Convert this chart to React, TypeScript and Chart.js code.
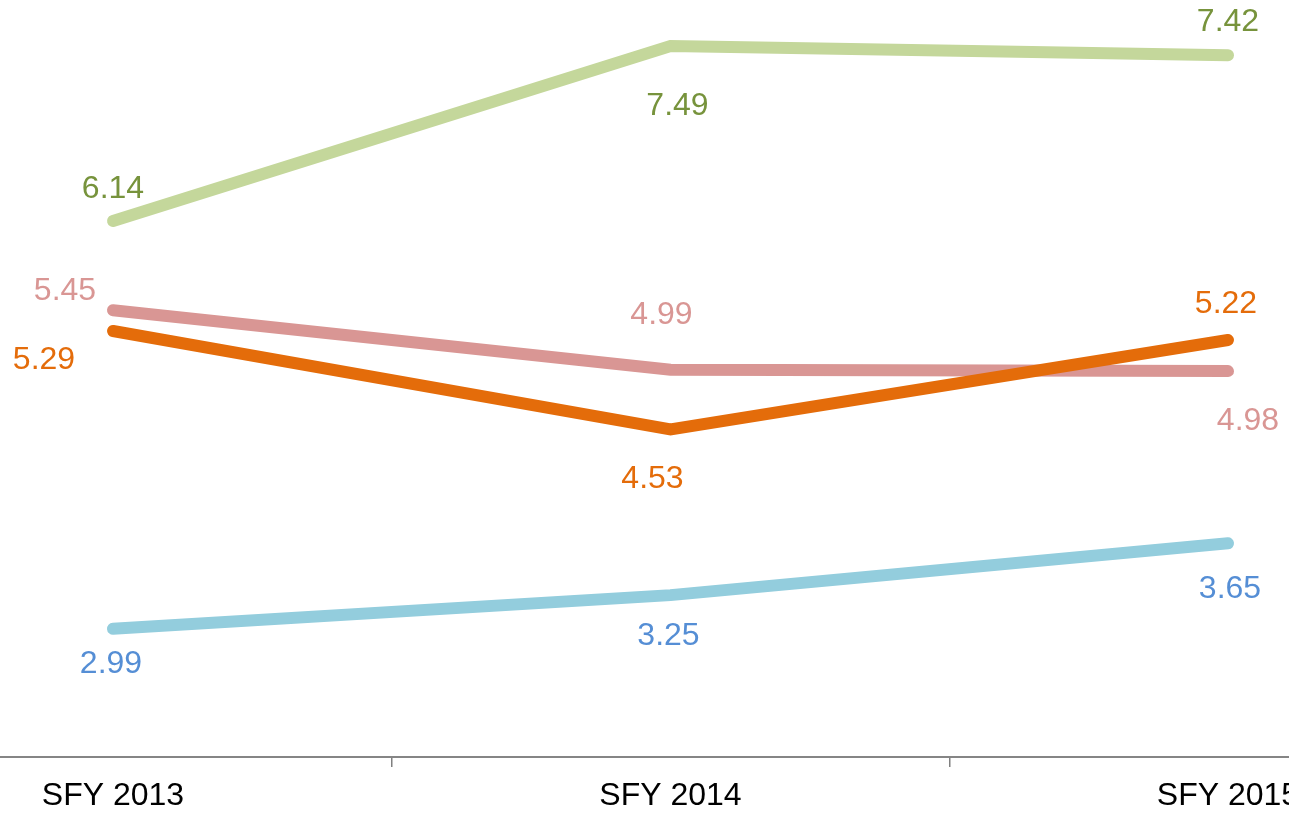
import React, { useEffect, useRef } from "react";
import { Chart, registerables } from "chart.js";

Chart.register(...registerables);

const categories = ["SFY 2013", "SFY 2014", "SFY 2015"];
const greenValues = [6.14, 7.49, 7.42];
const orangeValues = [5.29, 4.53, 5.22];
const pinkValues = [5.45, 4.99, 4.98];
const blueValues = [2.99, 3.25, 3.65];

// label offsets (dx, dy) in pixels, relative to each point
const greenLabelOffsets = [[0, -32], [7, 60], [0, -33]];
const orangeLabelOffsets = [[-69, 29], [-18, 50], [-2, -36]];
const pinkLabelOffsets = [[-48, -19], [-9, -55], [20, 50]];
const blueLabelOffsets = [[-2, 35], [-2, 41], [2, 46]];

const X_MIN = -0.2027;
const X_MAX = 2.1094;
const FONT = "'Liberation Sans', Arial, sans-serif";

const labelPlugin = {
  id: "pointLabels",
  afterDatasetsDraw(chart: any) {
    const ctx = chart.ctx;
    ctx.save();
    ctx.font = `32px ${FONT}`;
    ctx.textAlign = "center";
    ctx.textBaseline = "middle";
    chart.data.datasets.forEach((ds: any, di: number) => {
      const meta = chart.getDatasetMeta(di);
      meta.data.forEach((pt: any, i: number) => {
        const [dx, dy] = ds.labelOffsets[i];
        ctx.fillStyle = ds.labelColor;
        ctx.fillText(ds.data[i].y.toFixed(2), pt.x + dx, pt.y + dy);
      });
    });
    ctx.restore();
  },
};

function toPoints(vals: number[]) {
  return vals.map((v, i) => ({ x: i, y: v }));
}

export default function App() {
  const ref = useRef<HTMLCanvasElement>(null);
  useEffect(() => {
    if (!ref.current) return;
    const common = {
      borderWidth: 12,
      pointRadius: 0,
      pointHoverRadius: 0,
      tension: 0,
      borderCapStyle: "round",
      borderJoinStyle: "miter",
      fill: false,
    };
    const chart = new Chart(ref.current, {
      type: "line",
      data: {
        datasets: [
          { ...common, label: "Green", data: toPoints(greenValues), borderColor: "#c4d79b", labelColor: "#77933c", labelOffsets: greenLabelOffsets },
          { ...common, label: "Orange", data: toPoints(orangeValues), borderColor: "#e46c0a", labelColor: "#e46c0a", labelOffsets: orangeLabelOffsets },
          { ...common, label: "Pink", data: toPoints(pinkValues), borderColor: "#d99694", labelColor: "#d99694", labelOffsets: pinkLabelOffsets },
          { ...common, label: "Blue", data: toPoints(blueValues), borderColor: "#93cddd", labelColor: "#558ed5", labelOffsets: blueLabelOffsets },
        ] as any,
      },
      options: {
        responsive: false,
        animation: false,
        layout: { padding: 0 },
        plugins: { legend: { display: false }, tooltip: { enabled: false } },
        scales: {
          x: {
            type: "linear",
            min: X_MIN,
            max: X_MAX,
            afterBuildTicks(scale: any) {
              scale.ticks = [X_MIN, 0, 0.5, 1, 1.5, 2, X_MAX].map((v) => ({ value: v }));
            },
            afterFit(scale: any) {
              scale.paddingLeft = 0;
              scale.paddingRight = 0;
              scale.height = 56;
            },
            ticks: {
              autoSkip: false,
              maxRotation: 0,
              minRotation: 0,
              padding: 10,
              color: "#000",
              font: { family: FONT, size: 32 },
              callback(value: any) {
                const v = Number(value);
                if (Number.isInteger(v) && v >= 0 && v < categories.length) return categories[v];
                return "";
              },
            },
            grid: {
              drawOnChartArea: false,
              drawTicks: true,
              tickLength: 10,
              lineWidth: 1.5,
              color: (c: any) => {
                const v = c.tick ? c.tick.value : 0;
                return v === 0.5 || v === 1.5 ? "#808080" : "rgba(0,0,0,0)";
              },
            },
            border: { display: true, color: "#858585", width: 2 },
          },
          y: {
            display: false,
            min: 2,
            max: 7.846,
          },
        },
      } as any,
      plugins: [labelPlugin],
    });
    return () => chart.destroy();
  }, []);
  return (
    <div style={{ position: "fixed", left: 0, top: 0, width: 1289, height: 813, background: "#fff" }}>
      <canvas ref={ref} width={1289} height={813} style={{ display: "block" }} />
    </div>
  );
}
